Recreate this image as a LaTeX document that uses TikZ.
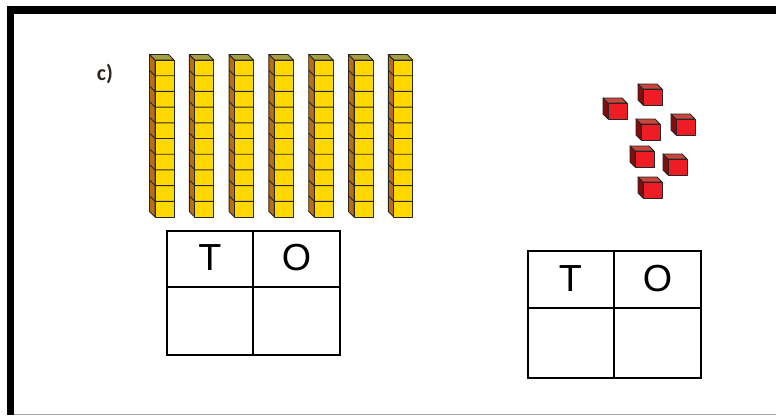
\documentclass[tikz,border=0pt]{standalone}
\usepackage{fontspec}
\setmainfont{Liberation Sans}
\newfontfamily\labelfont{Carlito}
\begin{document}
\begin{tikzpicture}[x=1pt,y=-1pt,
  tbl/.style={line width=2pt,draw=black},
  hdr/.style={inner sep=0pt,font=\fontsize{37.7}{40}\selectfont},
  cubeline/.style={draw=black!85,line width=0.9pt,line join=round},
]
\definecolor{rodfront}{HTML}{FFD800}
\definecolor{rodside}{HTML}{B8700F}
\definecolor{rodtop}{HTML}{A89F45}
\definecolor{redfront}{HTML}{EE1C24}
\definecolor{redtop}{HTML}{C8463C}
\definecolor{redside}{HTML}{8A0A0A}
\definecolor{labelcol}{HTML}{2E2220}
\useasboundingbox (0,0) rectangle (776,416);
\fill[white] (0,0) rectangle (776,416);
% frame
\draw[line width=7.5pt,line join=miter] (776,10) -- (10.5,10) -- (10.5,415);
\draw[gray!70,line width=1.3pt] (14,414.6) -- (776,414.6);
% label
\node[font=\labelfont\fontsize{22}{24}\selectfont\bfseries,text=labelcol,inner sep=0pt] (lbl) at (105,74) {c)};
% rods
\foreach \i in {0,...,6}{
  \pgfmathsetmacro{\xl}{155+39.8*\i}
  \pgfmathsetmacro{\xr}{\xl+19}
  % side face
  \filldraw[fill=rodside,cubeline] (\xl,60) -- (\xl-5.5,54.5) -- (\xl-5.5,211.5) -- (\xl,217) -- cycle;
  % top face
  \filldraw[fill=rodtop,cubeline] (\xl,60) -- (\xl-5.5,54.5) -- (\xr-5.5,54.5) -- (\xr,60) -- cycle;
  % front face
  \filldraw[fill=rodfront,cubeline] (\xl,60) rectangle (\xr,217);
  \foreach \k in {1,...,9}{
    \pgfmathsetmacro{\yk}{60+15.7*\k}
    \draw[cubeline] (\xl-5.5,\yk-5.5) -- (\xl,\yk) -- (\xr,\yk);
  }
}
% red unit cubes (bottom-right corners of front faces)
\foreach \cx/\cy in {627/119,662/105,660/140,695/135,654/167,687/175,662/198}{
  \filldraw[fill=redside,cubeline] (\cx-19,\cy-16) -- (\cx-24,\cy-21) -- (\cx-24,\cy-5) -- (\cx-19,\cy) -- cycle;
  \filldraw[fill=redtop,cubeline] (\cx-19,\cy-16) -- (\cx-24,\cy-21) -- (\cx-5,\cy-21) -- (\cx,\cy-16) -- cycle;
  \filldraw[fill=redfront,cubeline] (\cx-19,\cy-16) rectangle (\cx,\cy);
}
% left table
\draw[tbl] (167,231) rectangle (340,355);
\draw[tbl] (253,231) -- (253,355);
\draw[tbl] (167,287) -- (340,287);
\node[hdr] (t1) at (210,258) {T};
\node[hdr] (o1) at (296.5,258) {O};
% right table
\draw[tbl] (527.5,251) rectangle (701,378);
\draw[tbl] (614,251) -- (614,378);
\draw[tbl] (527.5,307.5) -- (701,307.5);
\node[hdr] (t2) at (570.5,278.5) {T};
\node[hdr] (o2) at (657.5,278.5) {O};
\end{tikzpicture}
\end{document}
